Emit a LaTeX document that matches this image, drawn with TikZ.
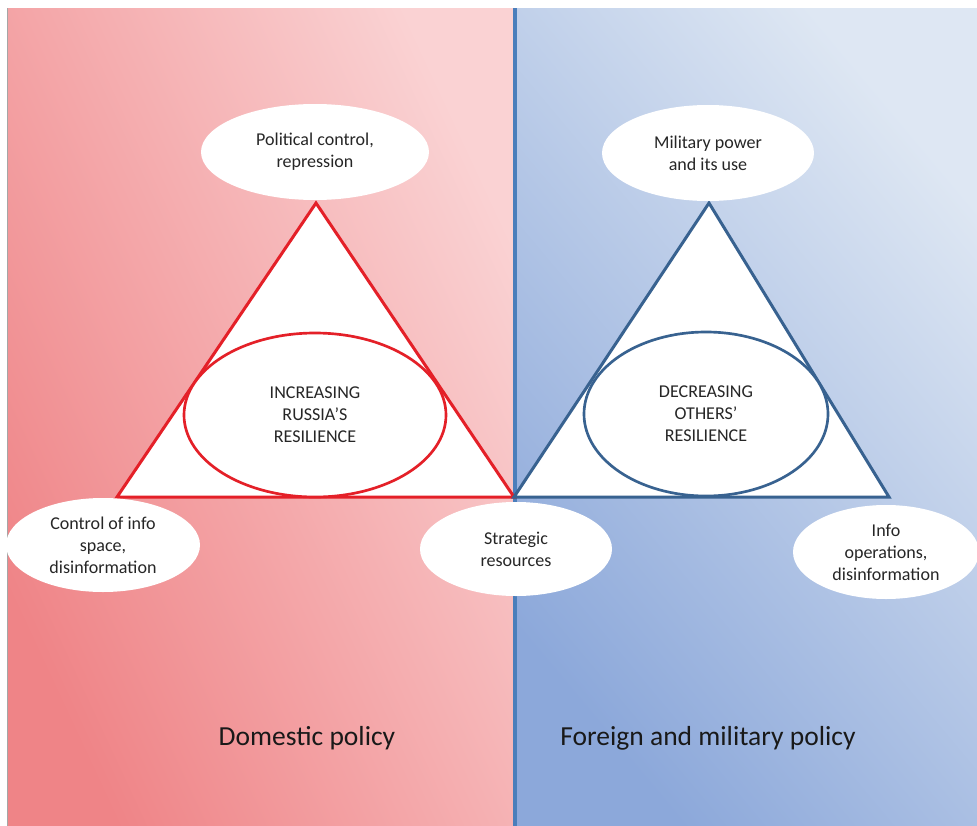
\documentclass[tikz,border=0pt]{standalone}
\usepackage{fontspec}
\setmainfont{Carlito}
\usetikzlibrary{shapes.geometric}
\definecolor{pinkdark}{RGB}{239,132,135}
\definecolor{pinklight}{RGB}{250,210,211}
\definecolor{bluedark}{RGB}{140,168,218}
\definecolor{bluelight}{RGB}{222,231,243}
\definecolor{divblue}{RGB}{74,126,187}
\definecolor{redline}{RGB}{228,32,40}
\definecolor{navyline}{RGB}{56,98,144}
\tikzset{
	bubble/.style={ellipse,fill=white,inner sep=0pt,align=center,
	text=black!85,font=\fontsize{15.4}{18.8}\selectfont},
	core/.style={ellipse,line width=0.8mm,fill=white,inner sep=0pt,align=center,
	text=black!85,font=\fontsize{15.4}{18.8}\selectfont},
	side/.style={line width=0.9mm,fill=white,line join=miter},
	caption/.style={text=black!90,font=\fontsize{23.5}{27}\selectfont}
}

\begin{document}
\begin{tikzpicture}[x=0.3mm,y=-0.3mm]
	\useasboundingbox (0,0) rectangle (977,826);
	\shade[bottom color=pinkdark,top color=pinklight,shading angle=-65] (7,8) rectangle (514,826);
	\shade[bottom color=bluedark,top color=bluelight,shading angle=-50] (514,8) rectangle (977,826);
	\draw[gray!70,line width=0.3mm] (7,8) -- (7,826);
	\coordinate (topdiv) at (514.5,8);	\coordinate (botdiv) at (514.5,826);
	\draw[divblue,line width=1.2mm] (topdiv) -- (botdiv);
	% triangles
	\coordinate (apexL) at (316,203);	\coordinate (leftL) at (117,497);	\coordinate (rightL) at (514,497);
	\coordinate (apexR) at (709,203);	\coordinate (leftR) at (514,497);	\coordinate (rightR) at (889,497);
	\draw[side,draw=redline] (apexL) -- (leftL) -- (rightL) -- cycle;
	\draw[side,draw=navyline] (apexR) -- (leftR) -- (rightR) -- cycle;
	\node[core,draw=redline,minimum width=78.6mm,minimum height=49.2mm] (russia) at (315,415)
	{INCREASING\\RUSSIA’S\\RESILIENCE};
	\node[core,draw=navyline,minimum width=73.2mm,minimum height=49.2mm] (others) at (706,414)
	{DECREASING\\OTHERS’\\RESILIENCE};
	% corner bubbles
	\node[bubble,minimum width=68.4mm,minimum height=28.8mm] (political) at (315,152) {Political control,\\repression};
	\node[bubble,minimum width=63.6mm,minimum height=28.8mm] (military) at (708,153) {Military power\\and its use};
	\node[bubble,minimum width=58.2mm,minimum height=28.2mm] (infospace) at (103,545) {Control of info\\space,\\disinformation};
	\node[bubble,minimum width=57.6mm,minimum height=28.2mm] (strategic) at (516,549) {Strategic\\resources};
	\node[bubble,minimum width=55.8mm,minimum height=28.2mm] (infoops) at (886,552) {Info\\operations,\\disinformation};
	\node[caption] (domestic) at (307,738) {Domestic policy};
	\node[caption] (foreign) at (708,738) {Foreign and military policy};
\end{tikzpicture}
\end{document}
